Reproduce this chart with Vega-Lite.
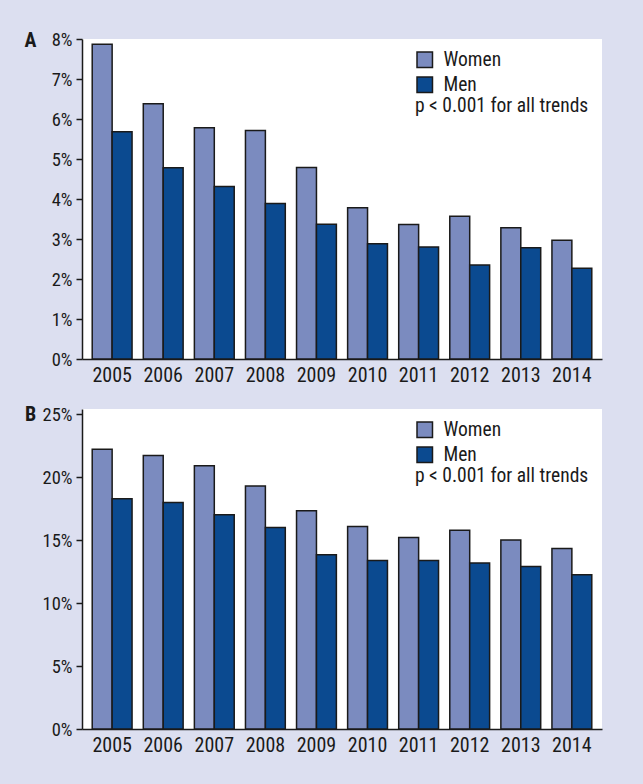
{
  "$schema": "https://vega.github.io/schema/vega-lite/v6.json",
  "background": "#dcdff0",
  "padding": {"left": 24, "top": 30, "right": 41, "bottom": 40},
  "spacing": 19,
  "config": {
    "font": "Roboto Condensed, DejaVu Sans Condensed, Liberation Sans, sans-serif",
    "view": {"fill": "white", "stroke": null},
    "axis": {
      "domainColor": "#1a1a1a",
      "domainWidth": 1.5,
      "tickColor": "#1a1a1a",
      "tickWidth": 1.5,
      "labelColor": "#1a1a1a",
      "labelFont": "Roboto Condensed, DejaVu Sans Condensed, Liberation Sans, sans-serif",
      "titleFont": "Roboto Condensed, DejaVu Sans Condensed, Liberation Sans, sans-serif",
      "titleColor": "#1a1a1a",
      "grid": false
    },
    "legend": {
      "labelFont": "Roboto Condensed, DejaVu Sans Condensed, Liberation Sans, sans-serif",
      "titleFont": "Roboto Condensed, DejaVu Sans Condensed, Liberation Sans, sans-serif",
      "labelFontSize": 19.5,
      "titleFontSize": 19.5,
      "titleFontWeight": "normal",
      "labelColor": "#1a1a1a",
      "titleColor": "#1a1a1a",
      "symbolType": "square",
      "symbolSize": 240,
      "symbolStrokeColor": "#1a1a1a",
      "symbolStrokeWidth": 1.5,
      "symbolOpacity": 1,
      "labelOffset": 9,
      "rowPadding": 3,
      "titleOrient": "bottom",
      "titleAnchor": "start",
      "titlePadding": 2,
      "titleLimit": 400,
      "orient": "none",
      "legendX": 333,
      "legendY": 11
    }
  },
  "data": {
    "values": [
      {"panel": "A", "year": "2005", "sex": "Women", "value": 7.87},
      {"panel": "A", "year": "2005", "sex": "Men", "value": 5.68},
      {"panel": "A", "year": "2006", "sex": "Women", "value": 6.38},
      {"panel": "A", "year": "2006", "sex": "Men", "value": 4.78},
      {"panel": "A", "year": "2007", "sex": "Women", "value": 5.78},
      {"panel": "A", "year": "2007", "sex": "Men", "value": 4.31},
      {"panel": "A", "year": "2008", "sex": "Women", "value": 5.71},
      {"panel": "A", "year": "2008", "sex": "Men", "value": 3.89},
      {"panel": "A", "year": "2009", "sex": "Women", "value": 4.79},
      {"panel": "A", "year": "2009", "sex": "Men", "value": 3.37},
      {"panel": "A", "year": "2010", "sex": "Women", "value": 3.78},
      {"panel": "A", "year": "2010", "sex": "Men", "value": 2.88},
      {"panel": "A", "year": "2011", "sex": "Women", "value": 3.36},
      {"panel": "A", "year": "2011", "sex": "Men", "value": 2.8},
      {"panel": "A", "year": "2012", "sex": "Women", "value": 3.57},
      {"panel": "A", "year": "2012", "sex": "Men", "value": 2.35},
      {"panel": "A", "year": "2013", "sex": "Women", "value": 3.28},
      {"panel": "A", "year": "2013", "sex": "Men", "value": 2.78},
      {"panel": "A", "year": "2014", "sex": "Women", "value": 2.97},
      {"panel": "A", "year": "2014", "sex": "Men", "value": 2.27},
      {"panel": "B", "year": "2005", "sex": "Women", "value": 22.2},
      {"panel": "B", "year": "2005", "sex": "Men", "value": 18.27},
      {"panel": "B", "year": "2006", "sex": "Women", "value": 21.7},
      {"panel": "B", "year": "2006", "sex": "Men", "value": 17.98},
      {"panel": "B", "year": "2007", "sex": "Women", "value": 20.9},
      {"panel": "B", "year": "2007", "sex": "Men", "value": 17.0},
      {"panel": "B", "year": "2008", "sex": "Women", "value": 19.28},
      {"panel": "B", "year": "2008", "sex": "Men", "value": 16.0},
      {"panel": "B", "year": "2009", "sex": "Women", "value": 17.32},
      {"panel": "B", "year": "2009", "sex": "Men", "value": 13.84},
      {"panel": "B", "year": "2010", "sex": "Women", "value": 16.07},
      {"panel": "B", "year": "2010", "sex": "Men", "value": 13.37},
      {"panel": "B", "year": "2011", "sex": "Women", "value": 15.2},
      {"panel": "B", "year": "2011", "sex": "Men", "value": 13.37},
      {"panel": "B", "year": "2012", "sex": "Women", "value": 15.78},
      {"panel": "B", "year": "2012", "sex": "Men", "value": 13.18},
      {"panel": "B", "year": "2013", "sex": "Women", "value": 15.01},
      {"panel": "B", "year": "2013", "sex": "Men", "value": 12.89},
      {"panel": "B", "year": "2014", "sex": "Women", "value": 14.32},
      {"panel": "B", "year": "2014", "sex": "Men", "value": 12.25}
    ]
  },
  "vconcat": [
    {
      "width": 520,
      "height": 320,
      "transform": [{"filter": "datum.panel == 'A'"}],
      "mark": {"type": "bar", "stroke": "#1a1a1a", "strokeWidth": 1.5},
      "encoding": {
        "x": {
          "field": "year", "type": "nominal",
          "scale": {"paddingInner": 0.22, "paddingOuter": 0.2},
          "axis": {"title": null, "ticks": false, "labelPadding": 6, "labelFontSize": 20, "labelAngle": 0}
        },
        "xOffset": {"field": "sex", "type": "nominal", "scale": {"domain": ["Women", "Men"]}},
        "y": {
          "field": "value", "type": "quantitative",
          "scale": {"domain": [0, 8], "nice": false},
          "axis": {
            "values": [0, 1, 2, 3, 4, 5, 6, 7, 8],
            "labelExpr": "datum.value + '%'",
            "labelFontSize": 18.5, "tickSize": 6, "labelPadding": 4,
            "title": "A", "titleAngle": 0, "titleX": -52, "titleY": 1,
            "titleAlign": "center", "titleBaseline": "middle",
            "titleFontSize": 20, "titleFontWeight": "bold"
          }
        },
        "color": {
          "field": "sex", "type": "nominal",
          "scale": {"domain": ["Women", "Men"], "range": ["#7b8bbf", "#0b4a90"]},
          "legend": {"title": "p < 0.001 for all trends"}
        }
      }
    },
    {
      "width": 520,
      "height": 320,
      "transform": [{"filter": "datum.panel == 'B'"}],
      "mark": {"type": "bar", "stroke": "#1a1a1a", "strokeWidth": 1.5},
      "encoding": {
        "x": {
          "field": "year", "type": "nominal",
          "scale": {"paddingInner": 0.22, "paddingOuter": 0.2},
          "axis": {"title": null, "ticks": false, "labelPadding": 6, "labelFontSize": 20, "labelAngle": 0}
        },
        "xOffset": {"field": "sex", "type": "nominal", "scale": {"domain": ["Women", "Men"]}},
        "y": {
          "field": "value", "type": "quantitative",
          "scale": {"domain": [0, 25.4], "nice": false},
          "axis": {
            "values": [0, 5, 10, 15, 20, 25],
            "labelExpr": "datum.value + '%'",
            "labelFontSize": 18.5, "tickSize": 6, "labelPadding": 4,
            "title": "B", "titleAngle": 0, "titleX": -52, "titleY": 5,
            "titleAlign": "center", "titleBaseline": "middle",
            "titleFontSize": 20, "titleFontWeight": "bold"
          }
        },
        "color": {
          "field": "sex", "type": "nominal",
          "scale": {"domain": ["Women", "Men"], "range": ["#7b8bbf", "#0b4a90"]},
          "legend": {"title": "p < 0.001 for all trends"}
        }
      }
    }
  ],
  "resolve": {"scale": {"y": "independent", "color": "independent", "x": "independent", "xOffset": "independent"}, "legend": {"color": "independent"}}
}
